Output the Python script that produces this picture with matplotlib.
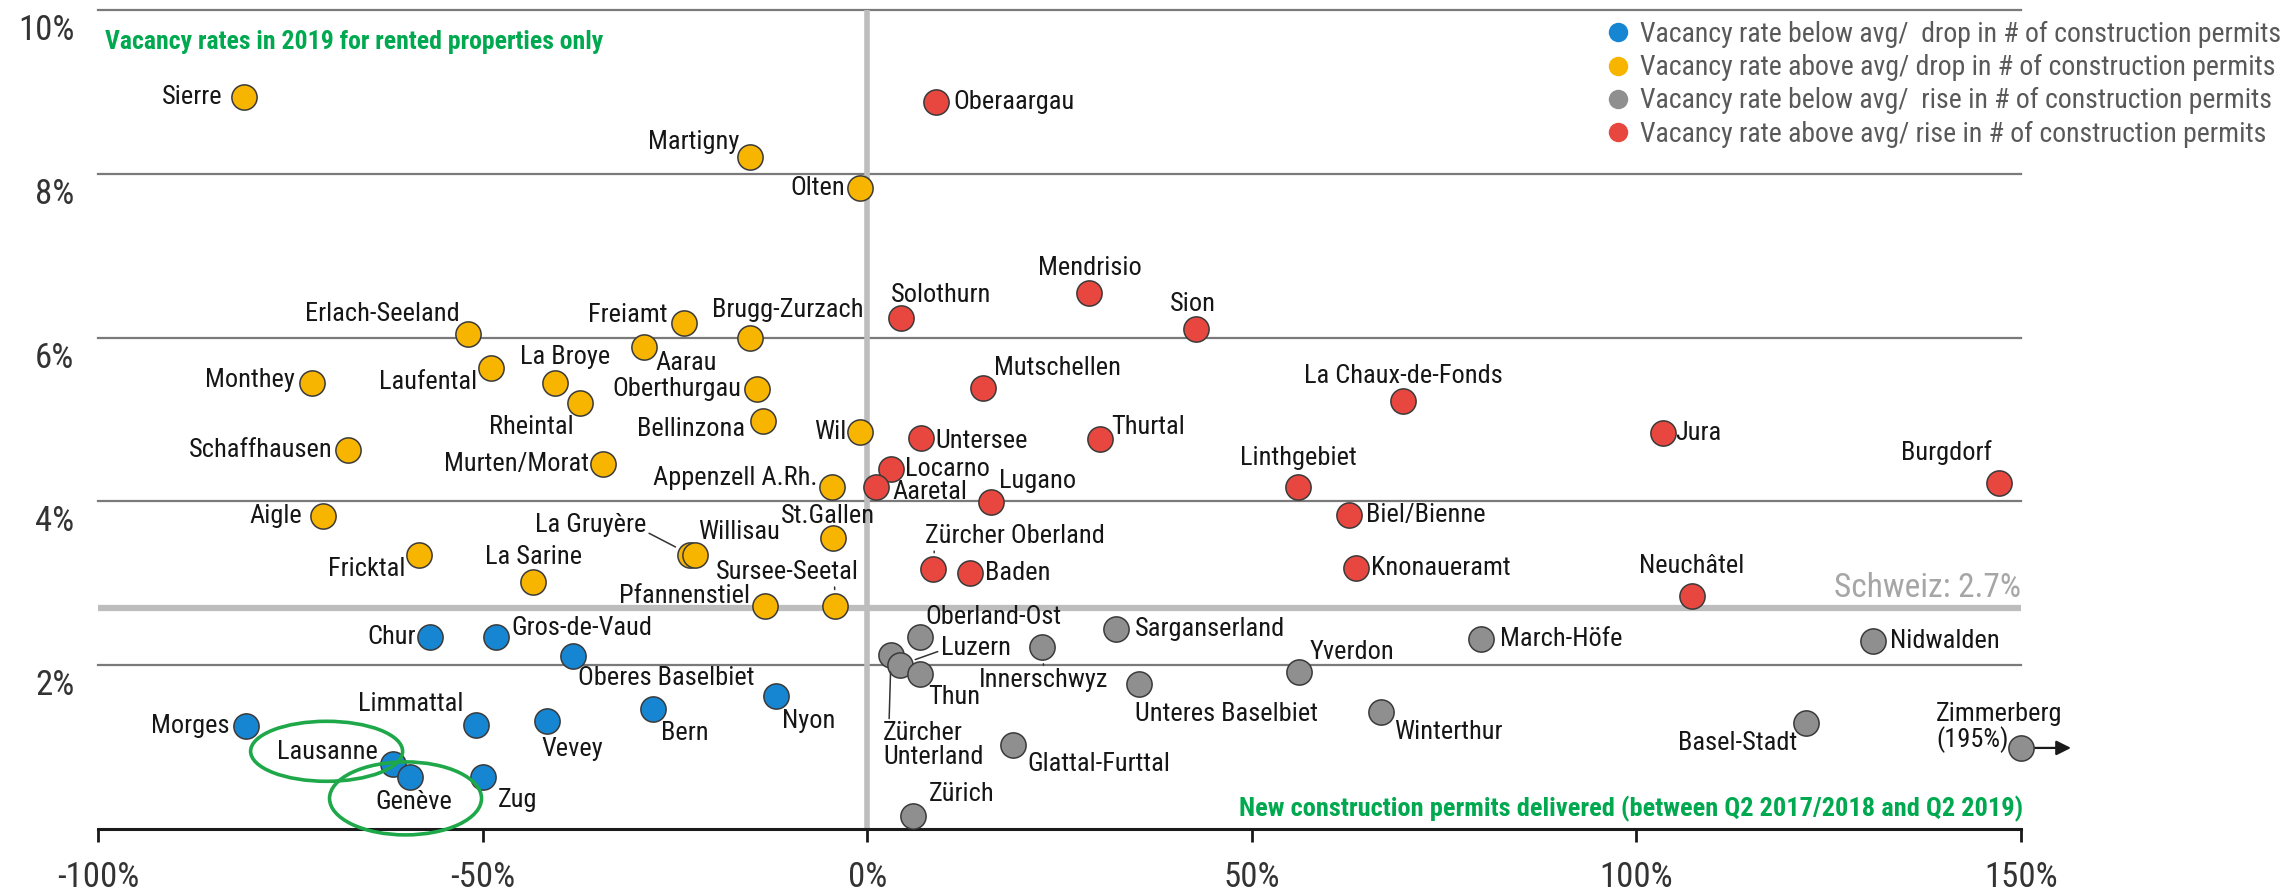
import matplotlib
matplotlib.use("Agg")
import matplotlib.pyplot as plt
from matplotlib import font_manager, transforms
from matplotlib.lines import Line2D
from matplotlib.patches import Ellipse

# --- data: change in construction permits (%) vs. vacancy rate 2019 (%) ---
blue_names = ["Chur", "Gros-de-Vaud", "Oberes Baselbiet", "Nyon", "Morges", "Limmattal",
              "Vevey", "Bern", "Lausanne", "Genève", "Zug"]
blue_x = [-56.9, -48.3, -38.3, -11.8, -80.8, -50.8, -41.6, -27.9, -61.7, -59.5, -50.0]
blue_y = [2.35, 2.35, 2.11, 1.62, 1.26, 1.27, 1.32, 1.47, 0.79, 0.63, 0.63]

yellow_names = ["Sierre", "Martigny", "Olten", "Erlach-Seeland", "Freiamt", "Brugg-Zurzach",
                "Aarau", "Monthey", "Laufental", "La Broye", "Rheintal", "Oberthurgau",
                "Bellinzona", "Wil", "Schaffhausen", "Murten/Morat", "Appenzell A.Rh.",
                "Aigle", "St.Gallen", "Fricktal", "La Gruyère", "Willisau", "La Sarine",
                "Sursee-Seetal", "Pfannenstiel"]
yellow_x = [-81.0, -15.2, -0.9, -51.9, -23.8, -15.2, -29.0, -72.2, -48.9, -40.6, -37.3, -14.3,
            -13.6, -0.9, -67.5, -34.3, -4.6, -70.7, -4.5, -58.3, -23.0, -22.4, -43.5,
            -4.2, -13.3]
yellow_y = [8.94, 8.20, 7.83, 6.05, 6.18, 6.00, 5.89, 5.45, 5.63, 5.45, 5.20, 5.37,
            4.98, 4.85, 4.63, 4.46, 4.17, 3.82, 3.55, 3.34, 3.35, 3.35, 3.02, 2.72, 2.72]

gray_names = ["Oberland-Ost", "Zürcher\nUnterland", "Luzern", "Thun", "Innerschwyz",
              "Sarganserland", "Unteres Baselbiet", "Yverdon", "Winterthur", "March-Höfe",
              "Nidwalden", "Basel-Stadt", "Zimmerberg", "Glattal-Furttal", "Zürich"]
gray_x = [6.8, 3.1, 4.2, 6.8, 22.7, 32.4, 35.4, 56.2, 66.8, 79.8, 130.7, 122.1, 195.0,
          19.0, 6.0]
gray_y = [2.34, 2.12, 2.00, 1.89, 2.22, 2.44, 1.77, 1.92, 1.43, 2.32, 2.30, 1.29, 0.99,
          1.02, 0.16]

red_names = ["Oberaargau", "Solothurn", "Mendrisio", "Sion", "Mutschellen",
             "La Chaux-de-Fonds", "Untersee", "Thurtal", "Jura", "Burgdorf", "Locarno",
             "Aaretal", "Lugano", "Linthgebiet", "Biel/Bienne", "Knonaueramt",
             "Zürcher Oberland", "Baden", "Neuchâtel"]
red_x = [8.9, 4.4, 28.9, 42.7, 15.1, 69.7, 7.0, 30.3, 103.5, 147.1, 3.1, 1.2, 16.1, 56.0,
         62.7, 63.5, 8.6, 13.3, 107.2]
red_y = [8.88, 6.24, 6.55, 6.10, 5.39, 5.22, 4.77, 4.76, 4.84, 4.23, 4.39, 4.17, 3.99, 4.17,
         3.84, 3.19, 3.17, 3.13, 2.85]

swiss_avg = 2.7
x_ticks = [-100, -50, 0, 50, 100, 150]
y_ticks = [2, 4, 6, 8, 10]

legend_labels = [
    "Vacancy rate below avg/  drop in # of construction permits",
    "Vacancy rate above avg/ drop in # of construction permits",
    "Vacancy rate below avg/  rise in # of construction permits",
    "Vacancy rate above avg/ rise in # of construction permits",
]
colors = ["#1686d2", "#f7b500", "#8f8f8f", "#e8473f"]

# label placement: offset of the text anchor from the point (pixels, y up) and alignment
label_pos = {
    "Sierre": (-22, 0, "right"), "Martigny": (-11, 15, "right"), "Olten": (-15, 0, "right"),
    "Erlach-Seeland": (-8, 20, "right"), "Freiamt": (-17, 8, "right"),
    "Brugg-Zurzach": (-38, 28, "left"), "Aarau": (11, -16, "left"),
    "Monthey": (-17, 3, "right"), "Laufental": (-14, -14, "right"),
    "La Broye": (10, 26, "center"), "Rheintal": (-7, -24, "right"),
    "Oberthurgau": (-16, 0, "right"), "Bellinzona": (-17, -8, "right"),
    "Wil": (-14, 0, "right"), "Schaffhausen": (-15, 0, "right"),
    "Murten/Morat": (-14, 0, "right"), "Appenzell A.Rh.": (-14, 9, "right"),
    "Aigle": (-21, 0, "right"), "St.Gallen": (-5, 22, "center"),
    "Fricktal": (-13, -14, "right"), "La Gruyère": (-44, 30, "right"),
    "Willisau": (3, 23, "left"), "La Sarine": (1, 25, "center"),
    "Sursee-Seetal": (24, 34, "right"), "Pfannenstiel": (-15, 10, "right"),
    "Chur": (-14, 0, "right"), "Gros-de-Vaud": (16, 9, "left"),
    "Oberes Baselbiet": (5, -22, "left"), "Nyon": (6, -25, "left"),
    "Morges": (-16, 0, "right"), "Limmattal": (-13, 21, "right"),
    "Vevey": (-6, -28, "left"), "Bern": (8, -24, "left"), "Lausanne": (-15, 12, "right"),
    "Genève": (4, -25, "center"), "Zug": (15, -23, "left"),
    "Oberaargau": (18, 0, "left"), "Solothurn": (-10, 23, "left"),
    "Mendrisio": (0, 25, "center"), "Sion": (-3, 25, "center"),
    "Mutschellen": (11, 20, "left"), "La Chaux-de-Fonds": (0, 25, "center"),
    "Untersee": (14, -3, "left"), "Thurtal": (11, 12, "left"), "Jura": (12, 0, "left"),
    "Burgdorf": (-7, 30, "right"), "Locarno": (14, 0, "left"), "Aaretal": (16, -5, "left"),
    "Lugano": (8, 21, "left"), "Linthgebiet": (0, 29, "center"),
    "Biel/Bienne": (17, 0, "left"), "Knonaueramt": (15, 0, "left"),
    "Zürcher Oberland": (-8, 33, "left"), "Baden": (15, 0, "left"),
    "Neuchâtel": (0, 30, "center"),
    "Oberland-Ost": (6, 20, "left"), "Zürcher\nUnterland": (-8, -90, "left"),
    "Luzern": (41, 17, "left"), "Thun": (9, -23, "left"), "Innerschwyz": (2, -33, "center"),
    "Sarganserland": (18, 0, "left"), "Unteres Baselbiet": (-4, -30, "left"),
    "Yverdon": (10, 20, "left"), "Winterthur": (13, -20, "left"),
    "March-Höfe": (19, 0, "left"), "Nidwalden": (17, 0, "left"),
    "Basel-Stadt": (-9, -20, "right"), "Zimmerberg": (-85, 20, "left"),
    "Glattal-Furttal": (14, -19, "left"), "Zürich": (15, 22, "left"),
}
# labels joined to their point by a thin leader line (anchor on the text box)
leaders = {
    "La Gruyère": (1.0, 0.2), "Sursee-Seetal": (0.83, 0.0), "Zürcher Oberland": (0.05, 0.0),
    "Luzern": (0.0, 0.4), "Zürcher\nUnterland": (0.06, 1.0), "Innerschwyz": (0.5, 1.0),
}
# green rings drawn round some labels: offset of ring centre from point, ring size (px)
rings = {"Lausanne": (-66, 13, 152, 60), "Genève": (-4, -21, 152, 73)}

# --- fonts ---
installed = {f.name for f in font_manager.fontManager.ttflist}
narrow = "DejaVu Sans"
for cand in ["Liberation Sans Narrow", "DejaVu Sans Condensed", "Roboto Condensed",
             "Liberation Sans"]:
    if cand in installed:
        narrow = cand
        break
plt.rcParams["font.family"] = [narrow, "DejaVu Sans"]

W, H, DPI = 2295, 890, 100
fig = plt.figure(figsize=(W / DPI, H / DPI), dpi=DPI)
ax = fig.add_axes([98 / W, 61 / H, 1923 / W, 819 / H])
ax.set_xlim(-100, 150)
ax.set_ylim(0, 10)
for s in ax.spines.values():
    s.set_visible(False)

# grid, average line, zero lines
for v in y_ticks:
    ax.axhline(v, color="#7a7a7a", lw=1.6, zorder=1, clip_on=False)
ax.axhline(swiss_avg, color="#bdbdbd", lw=4.5, zorder=2)
ax.axvline(0, color="#bdbdbd", lw=4, zorder=2)
ax.axhline(0, color="#1a1a1a", lw=2.2, zorder=3, clip_on=False)
ax.text(150, swiss_avg, f"Schweiz: {swiss_avg}%", ha="right", va="bottom", fontsize=24,
        color="#a6a6a6", transform=ax.transData + transforms.ScaledTranslation(
            0, 4 / DPI, fig.dpi_scale_trans))

ax.set_xticks(x_ticks)
ax.set_xticklabels([f"{v}%" for v in x_ticks])
ax.tick_params(axis="x", length=9, width=2, color="#1a1a1a", pad=14, labelsize=25,
               labelcolor="#333333")
ax.set_yticks(y_ticks)
ax.set_yticklabels([f"{v}%" for v in y_ticks])
ax.tick_params(axis="y", length=0, pad=17, labelsize=25, labelcolor="#333333")
drop = transforms.ScaledTranslation(0, -17 / DPI, fig.dpi_scale_trans)
for lbl in ax.get_yticklabels():
    lbl.set_transform(lbl.get_transform() + drop)

groups = [(blue_names, blue_x, blue_y), (yellow_names, yellow_x, yellow_y),
          (gray_names, gray_x, gray_y), (red_names, red_x, red_y)]
xmax = x_ticks[-1]
for (names, xs, ys), col in zip(groups, colors):
    px = [min(x, xmax) for x in xs]
    ax.scatter(px, ys, s=330, c=col, edgecolors="#3a3a3a", linewidths=1.1, zorder=5,
               clip_on=False)
    for name, x, xp, y in zip(names, xs, px, ys):
        dx, dy, ha = label_pos[name]
        text = name
        if x > xmax:
            text = f"{name}\n({x:.0f}%)"
        kw = {}
        if name in leaders:
            kw["arrowprops"] = dict(arrowstyle="-", color="#333333", lw=1.1,
                                    shrinkA=0, shrinkB=12, relpos=leaders[name])
        ax.annotate(text, (xp, y), xytext=(dx, dy), textcoords="offset pixels", ha=ha,
                    va="center", fontsize=19, color="#161616", zorder=6,
                    linespacing=1.0, multialignment="left", annotation_clip=False, **kw)
        if x > xmax:
            start = transforms.offset_copy(ax.transData, fig, x=13, y=0, units="dots")
            end = transforms.offset_copy(ax.transData, fig, x=50, y=0, units="dots")
            ax.annotate("", xy=(xp, y), xycoords=end, xytext=(xp, y), textcoords=start,
                        arrowprops=dict(arrowstyle="-|>", color="#1a1a1a", lw=1.6,
                                        mutation_scale=22, shrinkA=0, shrinkB=0),
                        annotation_clip=False)
        if name in rings:
            ox, oy, rw, rh = rings[name]
            cx, cy = ax.transData.transform((xp, y))
            fig.add_artist(Ellipse((cx + ox, cy + oy), rw, rh, fill=False,
                                   edgecolor="#1fa84a", lw=2.6,
                                   transform=transforms.IdentityTransform(), zorder=7))

# legend
handles = [Line2D([], [], ls="", marker="o", markersize=14, markerfacecolor=c,
                  markeredgewidth=0) for c in colors]
leg = fig.legend(handles, legend_labels, loc="upper left",
                 bbox_to_anchor=(1604 / W, 1 - 21 / H), frameon=False, fontsize=20,
                 handletextpad=0.3, labelspacing=0.22, borderaxespad=0, borderpad=0,
                 handlelength=1.0)
for t in leg.get_texts():
    t.set_color("#595959")

green = "#00a94f"
fig.text(105 / W, 1 - 42 / H, "Vacancy rates in 2019 for rented properties only",
         color=green, fontsize=18.5, fontweight="bold", ha="left", va="center")
fig.text(2023 / W, 1 - 809 / H,
         "New construction permits delivered (between Q2 2017/2018 and Q2 2019)",
         color=green, fontsize=19, fontweight="bold", ha="right", va="center")

fig.savefig("out.png", dpi=DPI)
